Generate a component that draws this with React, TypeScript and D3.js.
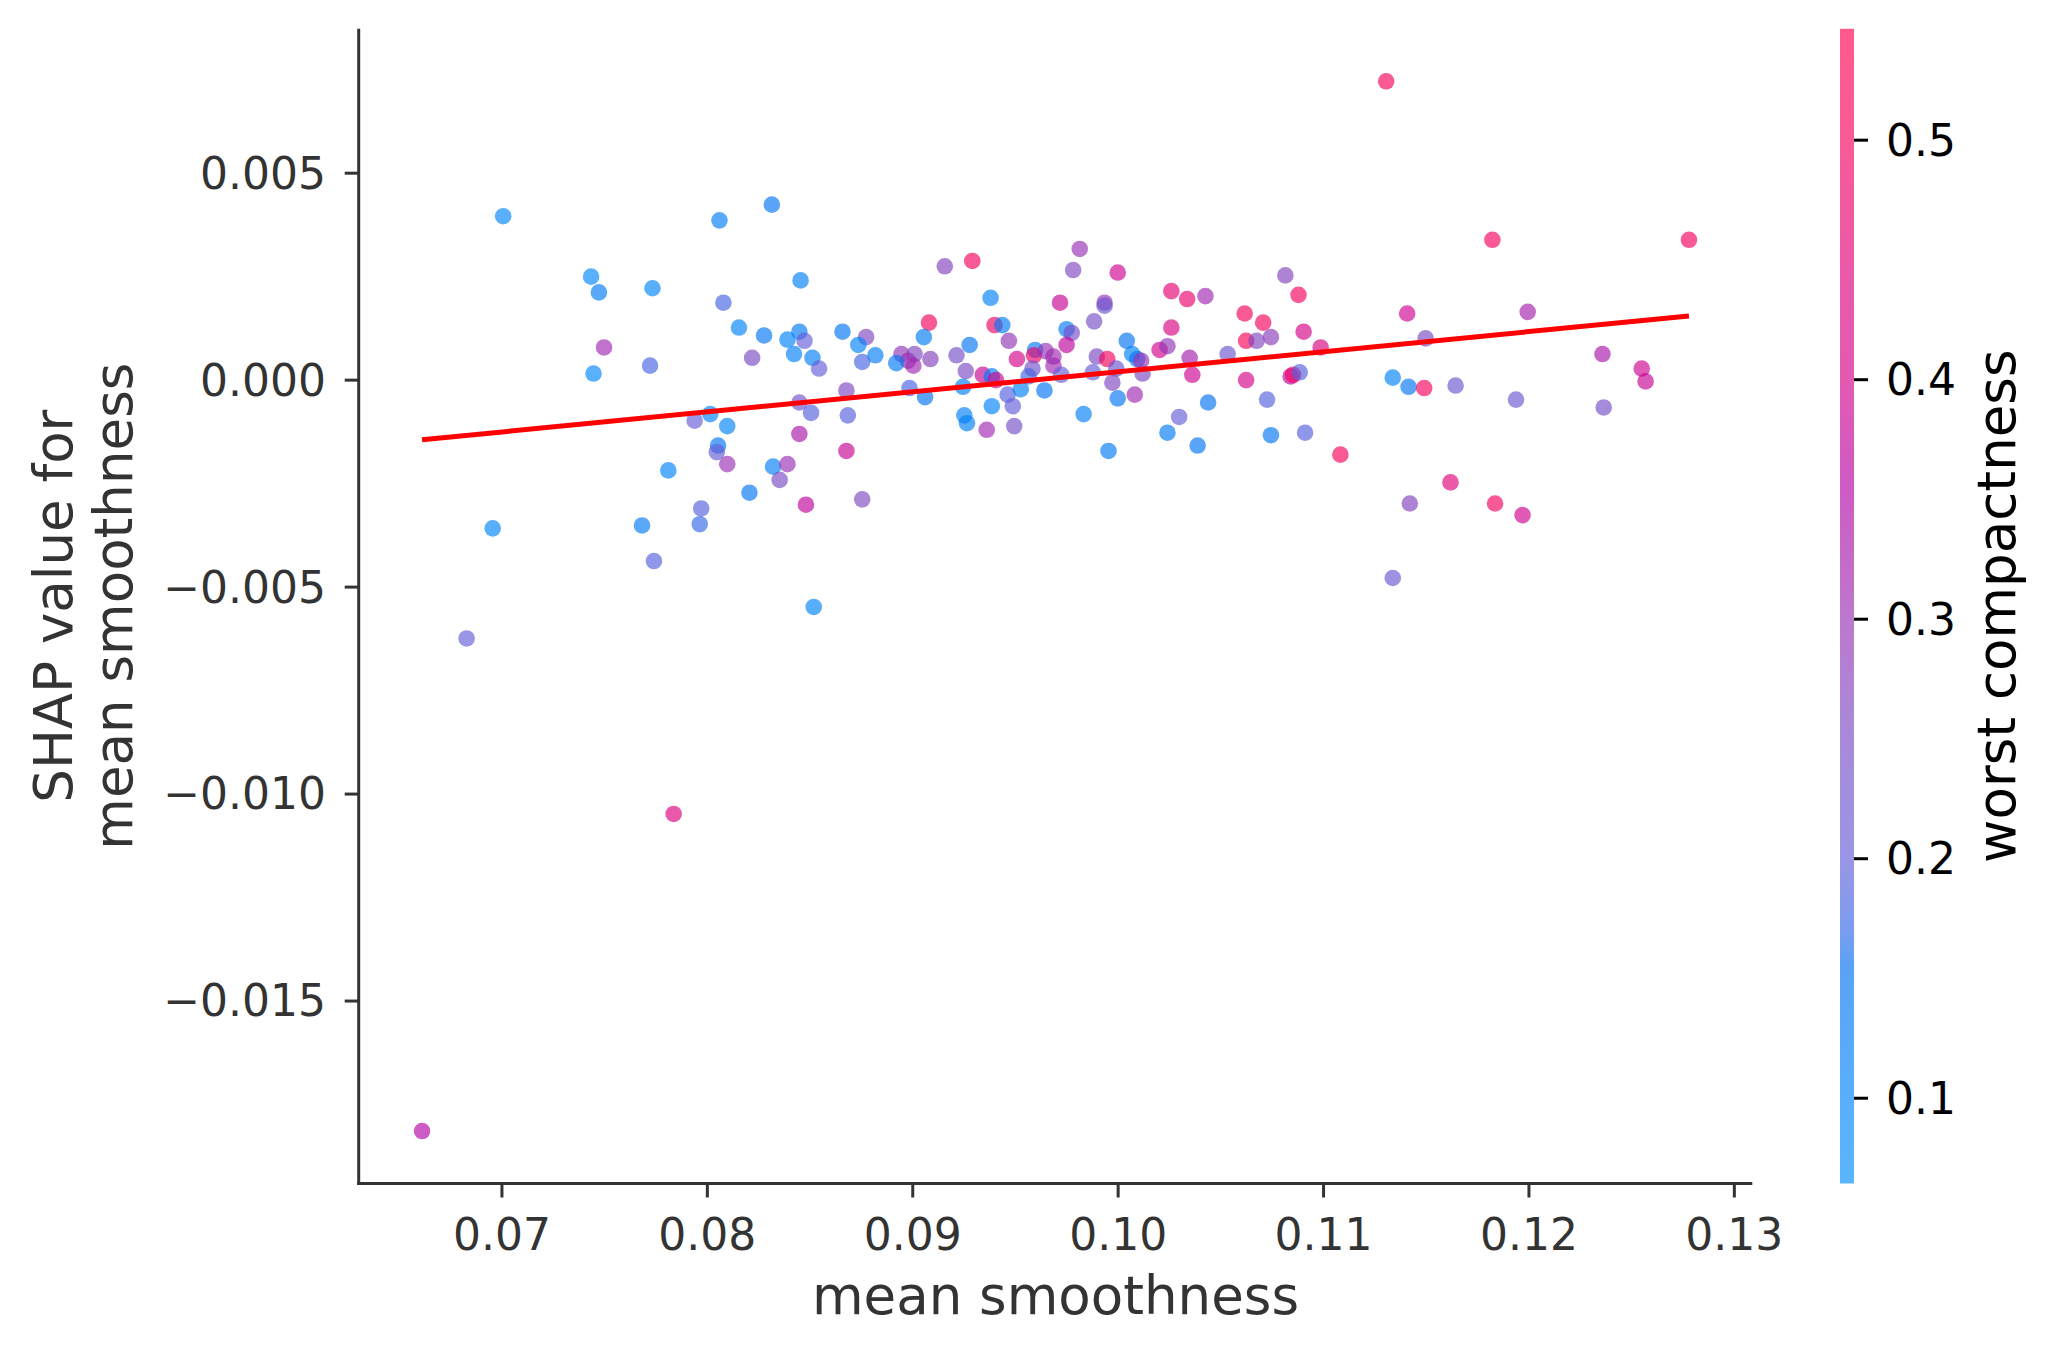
import * as d3 from 'd3';

// mean smoothness (x), SHAP value (y), worst compactness (colour)
const meanSmoothness = [
  0.07006, 0.08059, 0.08314, 0.07434, 0.07472, 0.07733, 0.08078, 0.08154, 0.08276, 0.0839,
  0.08422, 0.08454, 0.08448, 0.07497, 0.07446, 0.07721, 0.08218, 0.08014, 0.07938, 0.08097,
  0.08052, 0.08046, 0.08097, 0.0781, 0.0832, 0.0839, 0.08352, 0.08205, 0.08448, 0.08448,
  0.06955, 0.07682, 0.0797, 0.07963, 0.0774, 0.06828, 0.07836, 0.06611, 0.0848, 0.08754,
  0.08518, 0.08473, 0.08512, 0.08544, 0.08658, 0.08773, 0.08735, 0.08818, 0.08754, 0.08505,
  0.08677, 0.08684, 0.08677, 0.09156, 0.0929, 0.09379, 0.09079, 0.09054, 0.09398, 0.09436,
  0.09468, 0.09277, 0.08945, 0.09009, 0.08977, 0.09003, 0.0892, 0.09086, 0.09213, 0.09258,
  0.09341, 0.09385, 0.09405, 0.08984, 0.0906, 0.09245, 0.09251, 0.09264, 0.0936, 0.09385,
  0.09462, 0.09487, 0.09494, 0.09526, 0.09507, 0.09596, 0.0959, 0.09583, 0.09564, 0.09647,
  0.09685, 0.09685, 0.09723, 0.09641, 0.09832, 0.09717, 0.09781, 0.09813, 0.09998, 0.09749,
  0.09774, 0.09749, 0.09883, 0.09934, 0.09934, 0.09896, 0.09947, 0.09991, 0.09877, 0.09972,
  0.09998, 0.10081, 0.10042, 0.10068, 0.10093, 0.10112, 0.10119, 0.10202, 0.1024, 0.10259,
  0.10336, 0.10259, 0.10348, 0.10361, 0.10297, 0.1024, 0.09953, 0.10387, 0.11305, 0.11822,
  0.12779, 0.10814, 0.10878, 0.10425, 0.10616, 0.10706, 0.10623, 0.10674, 0.10744, 0.10903,
  0.10986, 0.10533, 0.10623, 0.1084, 0.10852, 0.10884, 0.11497, 0.11407, 0.11994, 0.11337,
  0.11414, 0.1149, 0.11643, 0.11937, 0.12358, 0.12549, 0.12568, 0.12364, 0.10438, 0.10725,
  0.10744, 0.1091, 0.11082, 0.11618, 0.1142, 0.11835, 0.11969, 0.11337,
];

const shapValues = [
  0.00396, 0.00386, 0.00424, 0.0025, 0.00212, 0.00222, 0.00187, 0.00127, 0.00108, 0.00098,
  0.00063, 0.00241, 0.00117, 0.00079, 0.00016, 0.00035, 0.00054, -0.00082, -0.00098, -0.00111,
  -0.00158, -0.00174, -0.00203, -0.00218, -0.00209, -0.00203, -0.00241, -0.00272, -0.00054, -0.0013,
  -0.00358, -0.00351, -0.0031, -0.00348, -0.00437, -0.00624, -0.01048, -0.01814, -0.00301, -0.00288,
  -0.00548, 0.00095, 0.00054, 0.00028, 0.00117, 0.00104, 0.00085, 0.0006, 0.00044, -0.00079,
  -0.00025, -0.00085, -0.00171, 0.00275, 0.00288, 0.00199, 0.00139, 0.00104, 0.00133, 0.00133,
  0.00095, 0.00085, 0.00063, 0.00063, 0.00047, 0.00035, 0.00041, 0.00051, 0.0006, 0.00022,
  0.00013, 0.00009, 0.0, -0.00019, -0.00041, -0.00016, -0.00085, -0.00104, -0.0012, -0.00063,
  -0.00035, -0.00063, -0.00111, -0.00022, 0.00051, 0.00073, 0.0006, 0.00028, 0.00009, 0.0007,
  0.00057, 0.00035, 0.00013, -0.00025, -0.00082, 0.00187, 0.00266, 0.00317, 0.0026, 0.00123,
  0.00114, 0.00085, 0.00142, 0.00187, 0.0018, 0.00057, 0.00051, 0.00028, 0.00019, -0.00006,
  -0.00044, -0.00035, 0.00095, 0.00063, 0.00051, 0.00047, 0.00016, 0.00073, 0.00082, 0.00215,
  0.00196, 0.00127, 0.00054, 0.00013, -0.00089, -0.00127, -0.00171, -0.00158, 0.00722, 0.00339,
  0.00339, 0.00253, 0.00206, 0.00203, 0.00161, 0.00139, 0.00095, 0.00095, 0.00104, 0.00117,
  0.00079, 0.00063, 0.0, 0.00009, 0.00013, 0.00019, 0.00101, 0.00161, 0.00165, 0.00006,
  -0.00016, -0.00019, -0.00013, -0.00047, 0.00063, 0.00028, -0.00003, -0.00066, -0.00054, -0.00047,
  -0.00133, -0.00127, -0.0018, -0.00247, -0.00298, -0.00298, -0.00326, -0.00478,
];

const worstCompactness = [
  0.09, 0.12, 0.14, 0.09, 0.13, 0.1, 0.18, 0.1, 0.14, 0.1,
  0.11, 0.11, 0.13, 0.31, 0.09, 0.18, 0.25, 0.1, 0.2, 0.1,
  0.14, 0.2, 0.3, 0.1, 0.12, 0.3, 0.25, 0.14, 0.23, 0.33,
  0.1, 0.13, 0.19, 0.17, 0.19, 0.2, 0.43, 0.35, 0.37, 0.26,
  0.1, 0.2, 0.12, 0.2, 0.14, 0.26, 0.1, 0.12, 0.18, 0.19,
  0.26, 0.19, 0.38, 0.27, 0.5, 0.11, 0.5, 0.13, 0.49, 0.13,
  0.29, 0.14, 0.29, 0.26, 0.3, 0.31, 0.13, 0.27, 0.24, 0.25,
  0.38, 0.13, 0.39, 0.18, 0.15, 0.12, 0.11, 0.12, 0.31, 0.1,
  0.19, 0.2, 0.24, 0.11, 0.4, 0.13, 0.48, 0.23, 0.18, 0.3,
  0.31, 0.31, 0.2, 0.14, 0.11, 0.38, 0.26, 0.3, 0.39, 0.12,
  0.24, 0.37, 0.24, 0.29, 0.22, 0.25, 0.5, 0.21, 0.2, 0.26,
  0.14, 0.31, 0.15, 0.11, 0.13, 0.3, 0.26, 0.4, 0.29, 0.46,
  0.47, 0.42, 0.32, 0.39, 0.2, 0.13, 0.13, 0.14, 0.51, 0.5,
  0.5, 0.27, 0.5, 0.31, 0.5, 0.5, 0.52, 0.26, 0.28, 0.41,
  0.42, 0.22, 0.4, 0.37, 0.5, 0.19, 0.25, 0.39, 0.32, 0.1,
  0.14, 0.5, 0.22, 0.21, 0.33, 0.39, 0.38, 0.24, 0.15, 0.19,
  0.14, 0.19, 0.5, 0.45, 0.27, 0.5, 0.39, 0.21,
];

// fitted trend line end points
const trendX = [0.06611, 0.12779];
const trendY = [-0.00144, 0.00155];

const xTicks = [0.07, 0.08, 0.09, 0.1, 0.11, 0.12, 0.13];
const yTicks = [-0.015, -0.01, -0.005, 0, 0.005];
const cbarTicks = [0.1, 0.2, 0.3, 0.4, 0.5];
const cbarDomain = [0.0644, 0.5465];

// red-blue colormap stops (value -> colour before alpha)
const cmapValues = [0.0644, 0.104, 0.155, 0.171, 0.2, 0.257, 0.3, 0.325, 0.357, 0.4, 0.445, 0.5, 0.5465];
const cmapColors = [
  'rgb(0,141,253)', 'rgb(0,130,249)', 'rgb(1,112,240)', 'rgb(53,103,231)', 'rgb(100,92,215)',
  'rgb(124,72,192)', 'rgb(152,47,180)', 'rgb(166,26,170)', 'rgb(181,1,163)', 'rgb(212,1,137)',
  'rgb(223,0,124)', 'rgb(244,1,93)', 'rgb(255,0,80)',
];

const W = 2055;
const H = 1357;
const plot = { left: 358.7, right: 1752.3, top: 28.8, bottom: 1183.5 };
const cbar = { x: 1840, w: 14 };
const ALPHA = 0.65;
const FONT = 'DejaVu Sans';

function padded(vals: number[]): [number, number] {
  const [lo, hi] = d3.extent(vals) as [number, number];
  const m = (hi - lo) * 0.05;
  return [lo - m, hi + m];
}

const fmtY = (v: number) => d3.format('.3f')(v).replace('-', '\u2212');

export default function App() {
  const x = d3.scaleLinear().domain(padded(meanSmoothness)).range([plot.left, plot.right]);
  const y = d3.scaleLinear().domain(padded(shapValues)).range([plot.bottom, plot.top]);
  const color = d3.scaleLinear<string>()
    .domain(cmapValues)
    .range(cmapColors)
    .interpolate(d3.interpolateRgb)
    .clamp(true);
  const cy = d3.scaleLinear().domain(cbarDomain).range([plot.bottom, plot.top]);

  const points = meanSmoothness.map((v, i) => ({ x: v, y: shapValues[i], c: worstCompactness[i] }));
  const trend = d3.line<number>()
    .x(d => x(d))
    .y((_, i) => y(trendY[i]));

  const midY = (plot.top + plot.bottom) / 2;
  const midX = (plot.left + plot.right) / 2;

  return (
    <svg
      width={W}
      height={H}
      style={{ position: 'absolute', left: 0, top: 0, background: '#fff' }}
      fontFamily={FONT}
    >
      <defs>
        <linearGradient id="cbar-grad" x1="0" y1="1" x2="0" y2="0">
          {cmapValues.map((v, i) => (
            <stop
              key={i}
              offset={(v - cbarDomain[0]) / (cbarDomain[1] - cbarDomain[0])}
              stopColor={cmapColors[i]}
            />
          ))}
        </linearGradient>
      </defs>

      {/* points */}
      <g>
        {points.map((p, i) => (
          <circle key={i} cx={x(p.x)} cy={y(p.y)} r={8.3} fill={color(p.c)} fillOpacity={ALPHA} />
        ))}
      </g>

      {/* trend */}
      <path d={trend(trendX) || ''} fill="none" stroke="#ff0000" strokeWidth={5} />

      {/* spines */}
      <line x1={plot.left} x2={plot.left} y1={plot.top} y2={plot.bottom + 1.5} stroke="#333" strokeWidth={3} />
      <line x1={plot.left - 1.5} x2={plot.right} y1={plot.bottom} y2={plot.bottom} stroke="#333" strokeWidth={3} />

      {/* x axis */}
      {xTicks.map(t => (
        <g key={t}>
          <line x1={x(t)} x2={x(t)} y1={plot.bottom} y2={plot.bottom + 14} stroke="#333" strokeWidth={3} />
          <text x={x(t)} y={1250} textAnchor="middle" fontSize={44} fill="#333">{t.toFixed(2)}</text>
        </g>
      ))}
      <text x={midX} y={1314} textAnchor="middle" fontSize={53} fill="#333">mean smoothness</text>

      {/* y axis */}
      {yTicks.map(t => (
        <g key={t}>
          <line x1={plot.left - 14} x2={plot.left} y1={y(t)} y2={y(t)} stroke="#333" strokeWidth={3} />
          <text x={326} y={y(t)} dy="0.35em" textAnchor="end" fontSize={44} fill="#333">{fmtY(t)}</text>
        </g>
      ))}
      <text transform={`translate(72,${midY}) rotate(-90)`} textAnchor="middle" fontSize={53} fill="#333">SHAP value for</text>
      <text transform={`translate(132,${midY}) rotate(-90)`} textAnchor="middle" fontSize={53} fill="#333">mean smoothness</text>

      {/* colour bar */}
      <rect
        x={cbar.x}
        y={plot.top}
        width={cbar.w}
        height={plot.bottom - plot.top}
        fill="url(#cbar-grad)"
        opacity={ALPHA}
      />
      {cbarTicks.map(t => (
        <g key={t}>
          <line x1={cbar.x + cbar.w} x2={cbar.x + cbar.w + 14} y1={cy(t)} y2={cy(t)} stroke="#000" strokeWidth={3} />
          <text x={1886} y={cy(t)} dy="0.35em" fontSize={44} fill="#000">{t.toFixed(1)}</text>
        </g>
      ))}
      <text transform={`translate(2015,${midY}) rotate(-90)`} textAnchor="middle" fontSize={53} fill="#000">worst compactness</text>
    </svg>
  );
}
